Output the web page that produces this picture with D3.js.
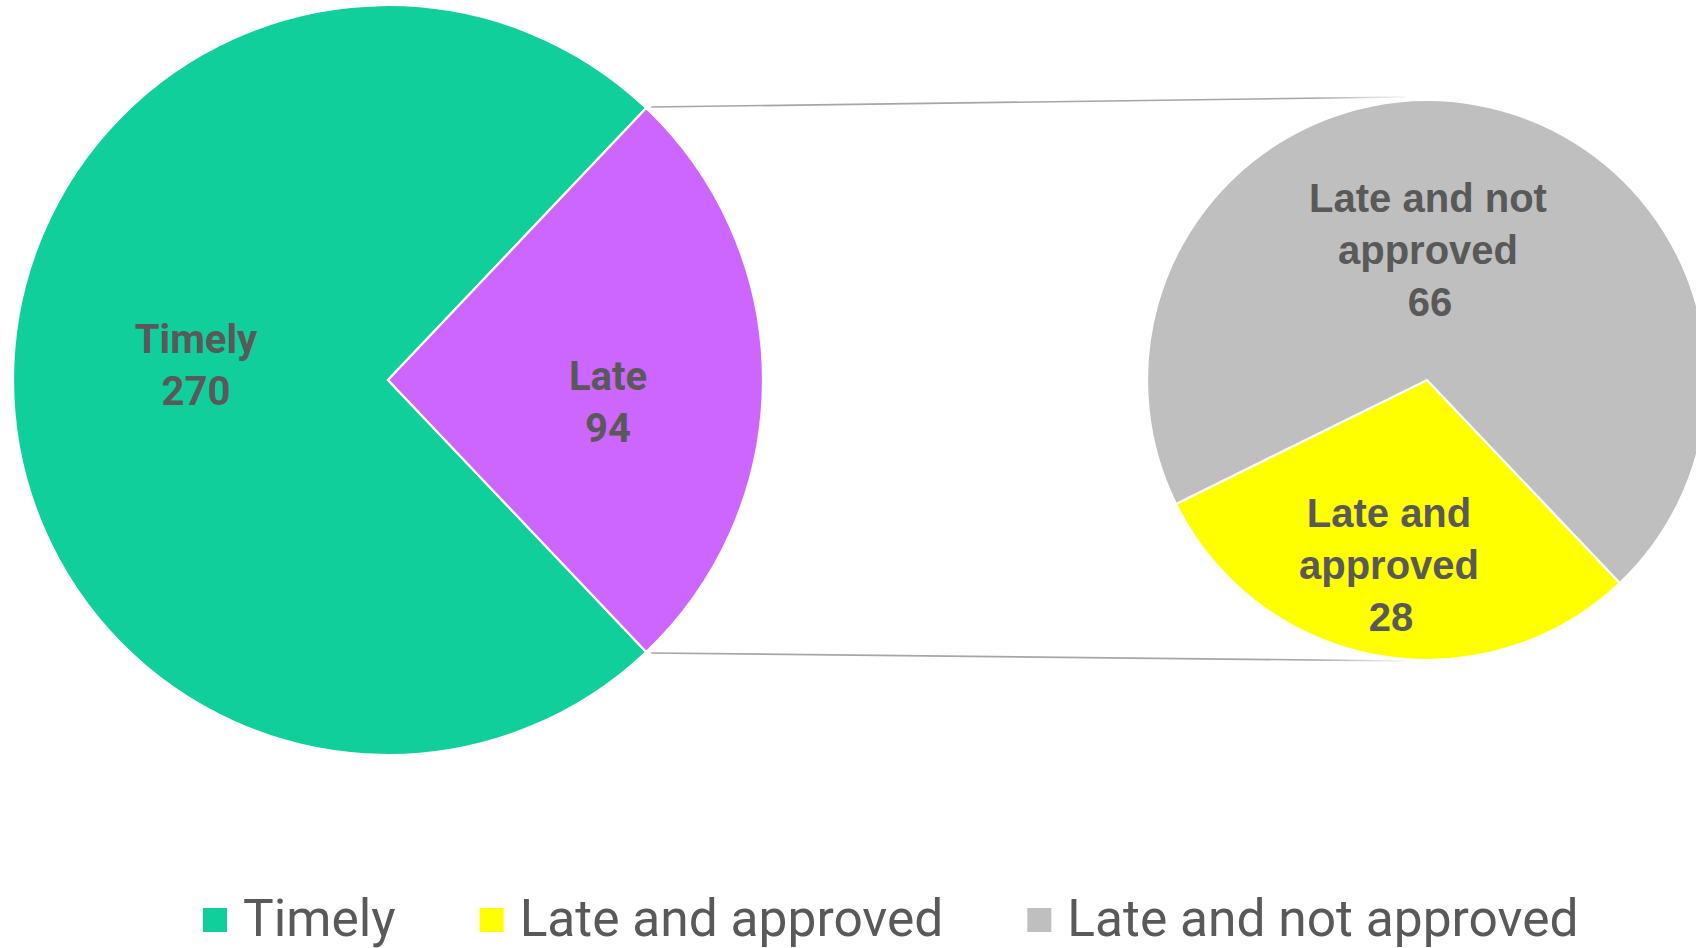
<!DOCTYPE html>
<html>
<head>
<meta charset="utf-8">
<script src="https://cdn.jsdelivr.net/npm/d3@7/dist/d3.min.js"></script>
<style>
  html, body { margin: 0; padding: 0; background: #ffffff; }
  svg { display: block; }
</style>
</head>
<body>
<svg id="chart" width="1696" height="948"></svg>
<script>
// ---- Data ----
const mainCategories = ["Timely", "Late"];
const mainValues = [270, 94];
const subCategories = ["Late and approved", "Late and not approved"];
const subValues = [28, 66];
const legendLabels = ["Timely", "Late and approved", "Late and not approved"];

// ---- Styles / layout ----
const W = 1696, H = 948;
const colors = {
  "Timely": "#11CF9A",
  "Late": "#CC66FF",
  "Late and approved": "#FFFF00",
  "Late and not approved": "#BFBFBF"
};
const textColor = "#595959";
const main = { cx: 388, cy: 380, r: 375 };
const sub = { cx: 1427, cy: 380, r: 280 };

const svg = d3.select("#chart");

// Start angle so that the "Late" slice is centered at 3 o'clock
const lateShare = mainValues[1] / d3.sum(mainValues);
const start = Math.PI / 2 + lateShare * Math.PI;

const pieMain = d3.pie().sort(null).value(d => d.value)
  .startAngle(start).endAngle(start + 2 * Math.PI);
const pieSub = d3.pie().sort(null).value(d => d.value)
  .startAngle(start).endAngle(start + 2 * Math.PI);

const mainData = pieMain(mainCategories.map((c, i) => ({ name: c, value: mainValues[i] })));
const subData = pieSub(subCategories.map((c, i) => ({ name: c, value: subValues[i] })));

const arcMain = d3.arc().innerRadius(0).outerRadius(main.r);
const arcSub = d3.arc().innerRadius(0).outerRadius(sub.r);

// ---- Connector lines ----
const defs = svg.append("defs");
const lateSlice = mainData[1];
function ptOnCircle(c, r, a) {
  return [c.cx + r * Math.sin(a), c.cy - r * Math.cos(a)];
}
const pTop = ptOnCircle(main, main.r, lateSlice.startAngle);
const pBot = ptOnCircle(main, main.r, lateSlice.endAngle);
const lines = [
  { id: "gTop", x1: pTop[0] + 5, y1: pTop[1] - 1, x2: sub.cx - 22, y2: sub.cy - sub.r - 3 },
  { id: "gBot", x1: pBot[0] + 5, y1: pBot[1] + 1, x2: sub.cx - 22, y2: sub.cy + sub.r + 1 }
];
lines.forEach(l => {
  const g = defs.append("linearGradient").attr("id", l.id)
    .attr("gradientUnits", "userSpaceOnUse")
    .attr("x1", l.x1).attr("y1", l.y1).attr("x2", l.x2).attr("y2", l.y2);
  g.append("stop").attr("offset", "0%").attr("stop-color", "#A6A6A6");
  g.append("stop").attr("offset", "88%").attr("stop-color", "#A6A6A6");
  g.append("stop").attr("offset", "100%").attr("stop-color", "#A6A6A6").attr("stop-opacity", 0.1);
  svg.append("line")
    .attr("x1", l.x1).attr("y1", l.y1).attr("x2", l.x2).attr("y2", l.y2)
    .attr("stroke", `url(#${l.id})`).attr("stroke-width", 1.6);
});

// ---- Main pie ----
const gMain = svg.append("g").attr("transform", `translate(${main.cx},${main.cy})`);
gMain.selectAll("path").data(mainData).join("path")
  .attr("d", arcMain)
  .attr("fill", d => colors[d.data.name])
  .attr("stroke", "#ffffff").attr("stroke-width", 2.2).attr("stroke-linejoin", "miter");

// Label positions relative to pie centre (Excel-like placement)
const mainLabelPos = { "Timely": [-192, -27], "Late": [220, 10] };
mainData.forEach(d => {
  const p = mainLabelPos[d.data.name];
  const t = gMain.append("text")
    .attr("text-anchor", "middle")
    .attr("font-family", "Roboto, 'Liberation Sans', sans-serif")
    .attr("font-weight", 700).attr("font-size", 40)
    .attr("fill", textColor);
  t.append("tspan").attr("x", p[0]).attr("y", p[1]).text(d.data.name);
  t.append("tspan").attr("x", p[0]).attr("y", p[1] + 52).text(d.data.value);
});

// ---- Secondary pie ----
const gSub = svg.append("g").attr("transform", `translate(${sub.cx},${sub.cy})`);
gSub.selectAll("path").data(subData).join("path")
  .attr("d", arcSub)
  .attr("fill", d => colors[d.data.name])
  .attr("stroke", "#ffffff").attr("stroke-width", 2.2).attr("stroke-linejoin", "miter");

const subLabelLines = {
  "Late and approved": ["Late and", "approved"],
  "Late and not approved": ["Late and not", "approved"]
};
const subLabelPos = { "Late and approved": [-38, 147], "Late and not approved": [1, -168] };
subData.forEach(d => {
  const p = subLabelPos[d.data.name];
  const t = gSub.append("text")
    .attr("text-anchor", "middle")
    .attr("font-family", "'Liberation Sans', Arial, sans-serif")
    .attr("font-weight", 700).attr("font-size", 40)
    .attr("fill", textColor);
  const ls = subLabelLines[d.data.name].concat([String(d.data.value)]);
  ls.forEach((s, i) => {
    t.append("tspan").attr("x", p[0] + (i === 2 ? 2 : 0)).attr("y", p[1] + i * 52).text(s);
  });
});

// ---- Legend ----
const legend = svg.append("g");
let lx = 203;
const sq = 24, sqY = 908, textY = 936;
legendLabels.forEach(name => {
  legend.append("rect").attr("x", lx).attr("y", sqY).attr("width", sq).attr("height", sq)
    .attr("fill", colors[name]);
  const t = legend.append("text")
    .attr("x", lx + sq + 16).attr("y", textY)
    .attr("font-family", "Roboto, 'Liberation Sans', sans-serif")
    .attr("font-size", 51.5).attr("fill", textColor)
    .text(name);
  const w = t.node().getComputedTextLength();
  lx = lx + sq + 16 + w + 84;
});
</script>
</body>
</html>
